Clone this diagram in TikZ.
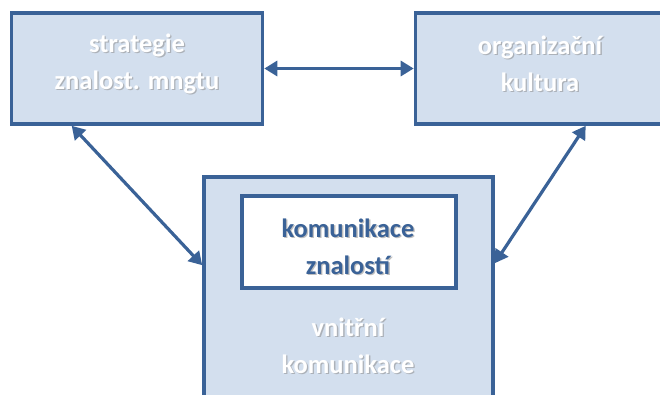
\documentclass[tikz,border=0pt]{standalone}
\usepackage{fontspec}
\setmainfont{Carlito}
\usetikzlibrary{arrows.meta}
\definecolor{edgeblue}{HTML}{3A6297}
\definecolor{boxfill}{HTML}{D3DFEE}
\tikzset{
  panel/.style={draw=edgeblue, line width=3.6pt, fill=boxfill, inner sep=0pt},
  innerpanel/.style={draw=edgeblue, line width=3.6pt, fill=white, inner sep=0pt},
  caption/.style={font=\bfseries\fontsize{26.5}{37.5}\selectfont, align=center, inner sep=0pt},
  shade/.style={caption, text=black!45, opacity=0.55},
  link/.style={draw=edgeblue, line width=3.2pt,
    {Triangle[length=13pt,width=15pt]}-{Triangle[length=13pt,width=15pt]}}
}
\begin{document}
\begin{tikzpicture}[x=1pt,y=-1pt]
  \useasboundingbox (0,0) rectangle (660,394);
  \clip (0,0) rectangle (660,394);
  % boxes
  \node[panel, minimum width=251pt, minimum height=111pt] (strat) at (137,68.5) {};
  \node[panel, minimum width=251pt, minimum height=111pt] (kult) at (541,68.5) {};
  \node[panel, minimum width=289pt, minimum height=250pt] (vnit) at (348.5,302) {};
  \node[innerpanel, minimum width=214pt, minimum height=92pt] (znal) at (349,242) {};
  % captions with a soft drop shadow
  \node[shade] at (138.3,65) {strategie\\znalost. mngtu};
  \node[caption, text=white] (tstrat) at (137,63.7) {strategie\\znalost. mngtu};
  \node[shade] at (541.3,65) {organizační\\kultura};
  \node[caption, text=white] (tkult) at (540,63.7) {organizační\\kultura};
  \node[shade] at (349.3,248) {komunikace\\znalostí};
  \node[caption, text=edgeblue] (tznal) at (348,246.7) {komunikace\\znalostí};
  \node[shade] at (349.3,347) {vnitřní\\komunikace};
  \node[caption, text=white] (tvnit) at (348,345.7) {vnitřní\\komunikace};
  % connectors
  \draw[link] (strat.east) -- (kult.west);
  \draw[link] ([xshift=62pt]strat.south west) -- ([yshift=-90pt]vnit.north west);
  \draw[link] ([xshift=172pt]kult.south west) -- ([yshift=-88pt]vnit.north east);
\end{tikzpicture}
\end{document}
